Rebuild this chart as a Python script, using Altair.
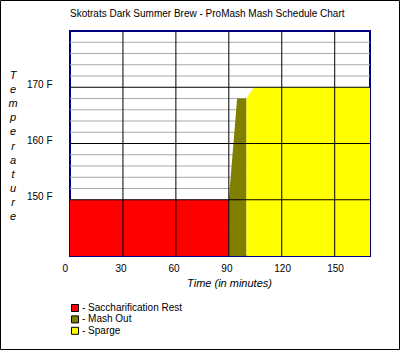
import altair as alt
import pandas as pd

chart_title = "Skotrats Dark Summer Brew - ProMash Mash Schedule Chart"
steps = ["Saccharification Rest", "Mash Out", "Sparge"]
step_colors = ["#ff0000", "#808000", "#ffff00"]

# temperature profile of each step (minutes, deg F)
sacch_time = [0, 90]
sacch_temp = [150, 150]
mash_time = [90, 94.7, 100]
mash_temp = [150, 168, 168]
sparge_time = [100, 104, 170]
sparge_temp = [168, 170, 170]

x_ticks = [0, 30, 60, 90, 120, 150]
y_ticks = [150, 160, 170]
minor_y = [142, 144, 146, 148, 152, 154, 156, 158, 162, 164, 166, 168, 172, 174, 176, 178]
x_domain = [0, 170]
y_domain = [140, 180]
y_title = list("Temperature")

FONT = "Liberation Sans"

rows = []
for name, ts, vs in [(steps[0], sacch_time, sacch_temp),
                     (steps[1], mash_time, mash_temp),
                     (steps[2], sparge_time, sparge_temp)]:
    for t, v in zip(ts, vs):
        rows.append({"step": name, "time": t, "temp": v})
area_df = pd.DataFrame(rows)

xs = alt.Scale(domain=x_domain, nice=False, zero=False)
ys = alt.Scale(domain=y_domain, nice=False, zero=False)

x_axis = alt.Axis(values=x_ticks, grid=False, ticks=False, domain=False,
                  labelAlign="left", labelOffset=-8, labelBaseline="top",
                  labelPadding=7, labelFontSize=10, labelFont=FONT,
                  labelColor="black",
                  title="Time (in minutes)", titleFont=FONT,
                  titleFontSize=11, titleFontStyle="italic",
                  titleFontWeight="normal", titleColor="black",
                  titleX=159, titleY=27, titleBaseline="middle",
                  titleAnchor="start", titleAlign="center")
y_axis = alt.Axis(values=y_ticks, grid=False, ticks=False, domain=False,
                  labelExpr="datum.value + ' F'", labelPadding=18,
                  labelFontSize=10, labelFont=FONT, labelColor="black",
                  labelOffset=-3,
                  title=y_title, titleAngle=0, titleFont=FONT,
                  titleFontSize=11, titleFontStyle="italic",
                  titleFontWeight="normal", titleColor="black",
                  titleLineHeight=14.2, titleX=-57.5, titleY=38,
                  titleAlign="center", titleBaseline="top",
                  titleAnchor="start")

minor = alt.Chart(pd.DataFrame({"temp": minor_y})).mark_rule(
    color="#a8a8a8", strokeWidth=1
).encode(
    y=alt.Y("temp:Q", scale=ys, axis=y_axis),
)

areas = alt.Chart(area_df).mark_area(interpolate="linear", opacity=1).encode(
    x=alt.X("time:Q", scale=xs, axis=x_axis),
    y=alt.Y("temp:Q", scale=ys, stack=None),
    y2=alt.datum(y_domain[0]),
    fill=alt.Fill("step:N", scale=alt.Scale(domain=steps, range=step_colors),
                  legend=alt.Legend(title=None, orient="none", legendX=0,
                                    legendY=272, symbolType="square",
                                    symbolSize=49, symbolStrokeColor="black",
                                    symbolStrokeWidth=1, symbolOpacity=1,
                                    labelFont=FONT, labelFontSize=10,
                                    labelColor="black", labelOffset=2,
                                    rowPadding=-0.6, padding=0,
                                    labelExpr="'- ' + datum.label")),
)

vgrid = alt.Chart(pd.DataFrame({"time": x_ticks[1:]})).mark_rule(
    color="black", strokeWidth=1
).encode(x=alt.X("time:Q", scale=xs))

hgrid = alt.Chart(pd.DataFrame({"temp": y_ticks})).mark_rule(
    color="black", strokeWidth=1
).encode(y=alt.Y("temp:Q", scale=ys))

border = alt.Chart(pd.DataFrame({"b": [0]})).mark_rect(
    fill=None, stroke="black", strokeWidth=1
).encode(x=alt.value(-69.5), x2=alt.value(329.5),
         y=alt.value(-30.5), y2=alt.value(318.5))

chart = alt.layer(minor, areas, vgrid, hgrid, border).properties(
    width=300, height=225,
    padding={"left": 70, "top": 31, "right": 31, "bottom": 95},
    autosize=alt.AutoSizeParams(type="none"),
    title=alt.TitleParams(chart_title, anchor="start", frame="group",
                          font=FONT, fontSize=10, fontWeight="normal",
                          color="black", dy=23),
    background="white",
).configure_view(stroke="#000080", strokeWidth=2)

chart.save("out.html", embed_options={"renderer": "svg", "actions": False})
